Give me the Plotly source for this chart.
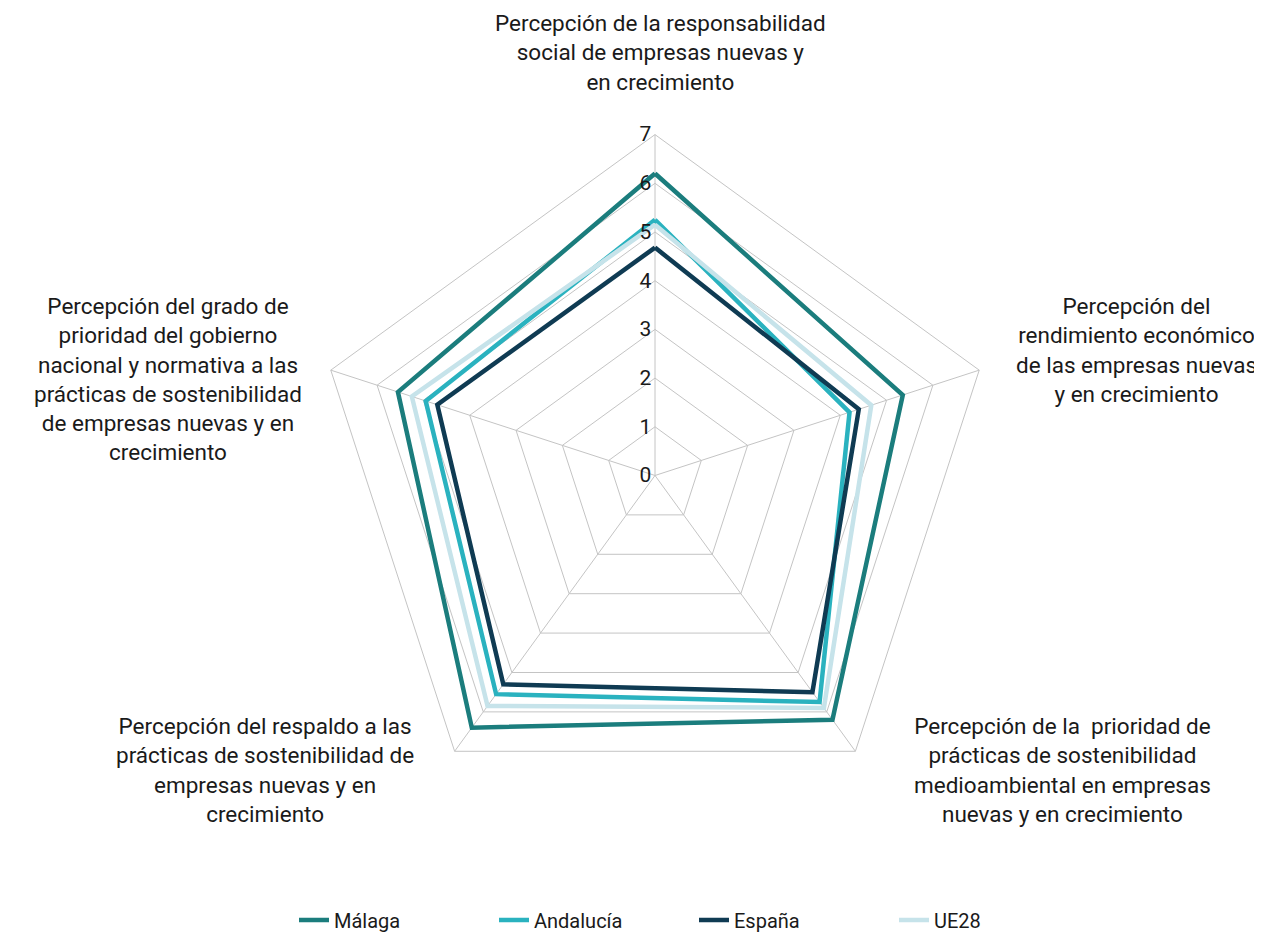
import plotly.graph_objects as go

# axis labels (clockwise from top)
categories = [
    "Responsabilidad social",
    "Rendimiento económico",
    "Prioridad medioambiental",
    "Respaldo a prácticas",
    "Prioridad gobierno",
]
axis_titles = [
    "Percepción de la responsabilidad<br>social de empresas nuevas y<br>en crecimiento",
    "Percepción del<br>rendimiento económico<br>de las empresas nuevas<br>y en crecimiento",
    "Percepción de la  prioridad de<br>prácticas de sostenibilidad<br>medioambiental en empresas<br>nuevas y en crecimiento",
    "Percepción del respaldo a las<br>prácticas de sostenibilidad de<br>empresas nuevas y en<br>crecimiento",
    "Percepción del grado de<br>prioridad del gobierno<br>nacional y normativa a las<br>prácticas de sostenibilidad<br>de empresas nuevas y en<br>crecimiento",
]

malaga = [6.2, 5.35, 6.2, 6.4, 5.55]
andalucia = [5.25, 4.2, 5.75, 5.55, 4.95]
espana = [4.68, 4.4, 5.5, 5.3, 4.7]
ue28 = [5.15, 4.67, 5.9, 5.85, 5.25]

series = [
    ("Málaga", malaga, "#1b7d7d"),
    ("Andalucía", andalucia, "#2ab2bf"),
    ("España", espana, "#0f3b53"),
    ("UE28", ue28, "#c6e3ea"),
]

fig = go.Figure()
for name, vals, col in series:
    fig.add_trace(go.Scatterpolar(
        r=vals + vals[:1], theta=categories + categories[:1],
        mode="lines", name=name,
        line=dict(color=col, width=4.5)))

W, H = 1262, 932
cx, cy, rad = 647, 469, 342

# label positions in pixels (centre of each text block)
label_pos = [(652, 45), (1128, 343), (1054, 764), (257, 764), (160, 372)]
annotations = []
for txt, (px_, py_) in zip(axis_titles, label_pos):
    annotations.append(dict(
        text=txt, x=px_ / W, y=1 - py_ / H, xref="paper", yref="paper",
        xanchor="center", yanchor="middle", showarrow=False, align="center",
        font=dict(size=22.5, color="#1a1a1a")))

fig.update_layout(
    width=W, height=H,
    paper_bgcolor="white",
    margin=dict(l=0, r=0, t=0, b=0),
    font=dict(family="Roboto", size=21, color="#1a1a1a"),
    polar=dict(
        domain=dict(x=[(cx - rad) / W, (cx + rad) / W],
                    y=[1 - (cy + rad) / H, 1 - (cy - rad) / H]),
        bgcolor="white",
        gridshape="linear",
        radialaxis=dict(range=[0, 7], dtick=1, angle=90, tickangle=90,
                        side="counterclockwise", showline=False, ticks="",
                        gridcolor="#c4c4c4", gridwidth=1,
                        tickfont=dict(size=21, color="#1a1a1a")),
        angularaxis=dict(rotation=90, direction="clockwise",
                         showticklabels=False, ticks="",
                         gridcolor="#c4c4c4", linecolor="#c4c4c4", linewidth=1),
    ),
    showlegend=True,
    legend=dict(orientation="h", x=286 / W, xanchor="left", y=1 - 915 / H,
                yanchor="middle", entrywidth=155, entrywidthmode="pixels",
                font=dict(size=20, color="#1a1a1a")),
    annotations=annotations,
)

fig.write_html("out.html")
